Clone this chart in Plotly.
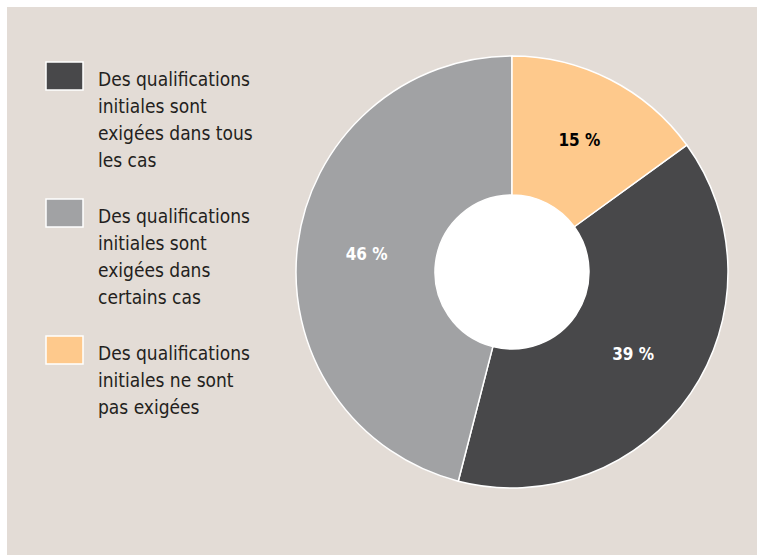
import textwrap
import plotly.graph_objects as go

labels = [
    "Des qualifications initiales sont exigées dans tous les cas",
    "Des qualifications initiales sont exigées dans certains cas",
    "Des qualifications initiales ne sont pas exigées",
]
values = [39, 46, 15]
colors = ["#48484a", "#a1a2a4", "#fec98c"]
text_colors = ["white", "white", "black"]

W, H = 757, 555
BG = "#e3dcd6"
FONT = "Liberation Sans Narrow, DejaVu Sans Condensed, Roboto, sans-serif"


def px(x):
    return x / W


def py(y):
    # pixel from top -> paper fraction
    return (H - y) / H


# pie box in page pixels
cx, cy, r_out, r_in = 512, 272, 216, 77

fig = go.Figure(go.Pie(
    labels=labels,
    values=values,
    sort=False,
    direction="clockwise",
    rotation=54,
    hole=r_in / r_out,
    marker=dict(colors=colors, line=dict(color="white", width=1.5)),
    texttemplate="%{value} %",
    textinfo="text",
    textposition="inside",
    insidetextorientation="horizontal",
    textfont=dict(family=FONT, size=17, color=text_colors, weight="bold"),
    domain=dict(x=[px(cx - r_out), px(cx + r_out)], y=[py(cy + r_out), py(cy - r_out)]),
    showlegend=False,
    hoverinfo="label+percent",
))

# beige panel with a thin white strip on top and left
fig.add_shape(type="rect", xref="paper", yref="paper",
              x0=px(7), x1=1, y0=0, y1=py(7),
              fillcolor=BG, line_width=0, layer="below")

# white centre
fig.add_shape(type="circle", xref="paper", yref="paper",
              x0=px(cx - r_in), x1=px(cx + r_in), y0=py(cy + r_in), y1=py(cy - r_in),
              fillcolor="white", line_width=0, layer="above")

# hand-built legend with large swatches
sw_top = [62, 199, 336]
for i, lab in enumerate(labels):
    y0 = sw_top[i]
    fig.add_shape(type="rect", xref="paper", yref="paper",
                  x0=px(46), x1=px(83), y0=py(y0 + 28), y1=py(y0),
                  fillcolor=colors[i], line=dict(color="white", width=1.5))
    for j, line in enumerate(textwrap.wrap(lab, 18)):
        fig.add_annotation(xref="paper", yref="paper", x=px(96), y=py(y0 + 4 + 27 * j),
                           xanchor="left", yanchor="top", align="left", showarrow=False,
                           text=line, font=dict(family=FONT, size=19, color="#231f20"))

fig.update_layout(
    width=W, height=H,
    margin=dict(l=0, r=0, t=0, b=0),
    paper_bgcolor="white",
    plot_bgcolor="white",
)

fig.write_html("out.html", config={"displayModeBar": False},
               post_script="document.body.style.margin = '0';")
